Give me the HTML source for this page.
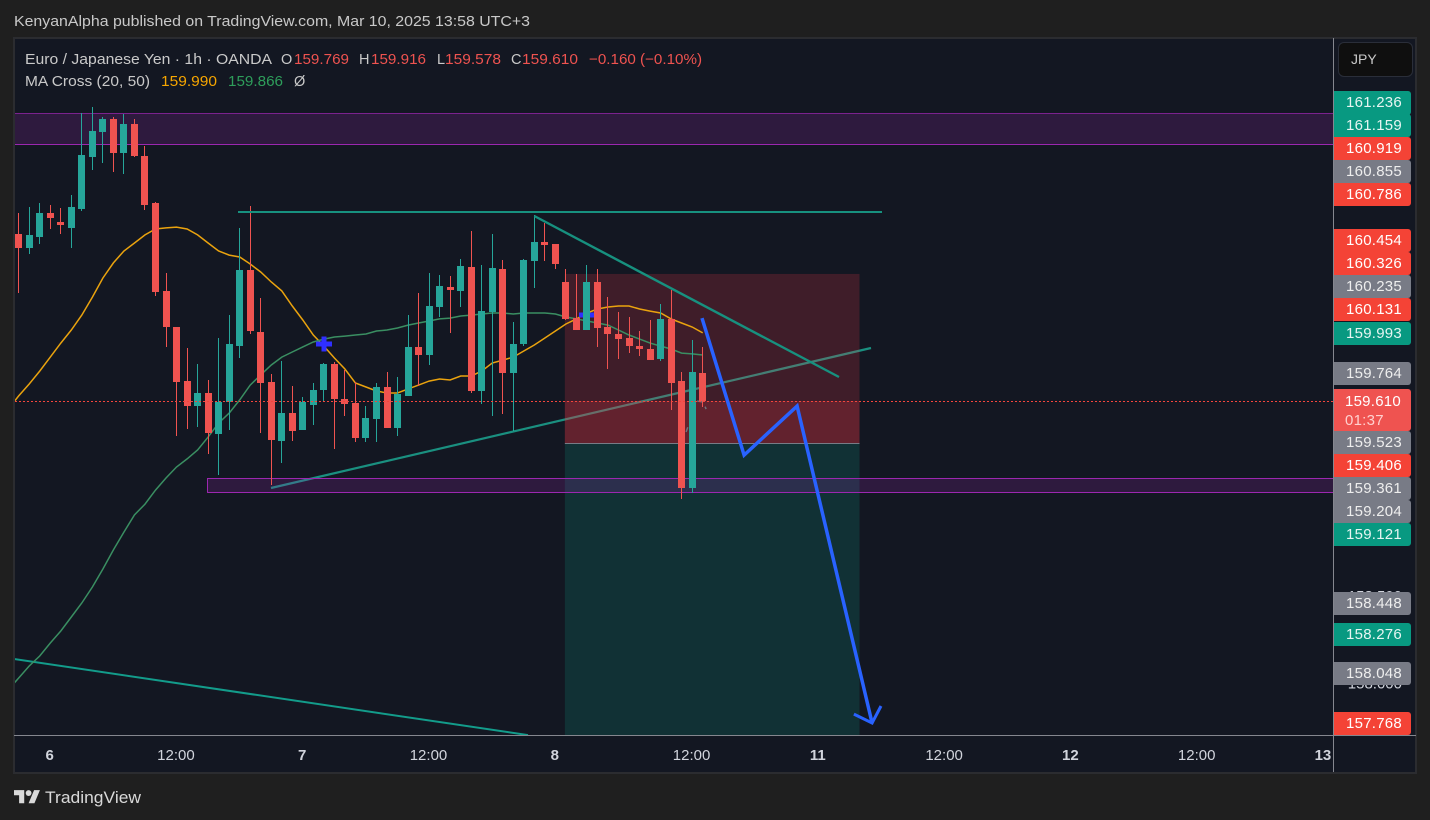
<!DOCTYPE html>
<html lang="en">
<head>
<meta charset="utf-8">
<title>EUR/JPY chart</title>
<style>
  html, body { margin: 0; padding: 0; background: #1f1f1f; }
  #stage { position: relative; width: 1430px; height: 820px; overflow: hidden; background: #1f1f1f; font-family: "Liberation Sans", sans-serif; }
  svg { position: absolute; left: 0; top: 0; }
  .tag { position: absolute; left: 1334px; width: 77px; height: 23px; line-height: 24px; box-sizing: border-box; padding-right: 9px; text-align: right; font-size: 15px; letter-spacing: 0.25px; border-radius: 0 3px 3px 0; color: #f4f4f4; }
  .teal { background: #089981; color: #e6f5f2; }
  .red { background: #f44336; color: #fff; }
  .gray { background: #787b86; color: #eeeeee; }
  #last-price-tag { height: 42px; top: 389px; background: #ef5350; color: #fff; z-index: 2; }
  #last-price-tag div { position: absolute; left: 11px; line-height: 20px; }
  #jpy-button { position: absolute; left: 1338px; top: 42px; width: 75px; height: 35px; box-sizing: border-box; background: #0f0f0f; border: 1px solid #2a2e39; border-radius: 6px; color: #c8c8c8; font-size: 14px; line-height: 33px; padding-left: 12px; }
</style>
</head>
<body>
<div id="stage">
  <svg id="chart" width="1430" height="820" viewBox="0 0 1430 820" xmlns="http://www.w3.org/2000/svg">
    <defs><clipPath id="pane-clip"><rect x="15" y="38" width="1318" height="697"></rect></clipPath></defs>
    <text x="14" y="26" font-size="14.5" fill="#c9c9c9" textLength="516" lengthAdjust="spacingAndGlyphs">KenyanAlpha published on TradingView.com, Mar 10, 2025 13:58 UTC+3</text>
    <rect x="14" y="38" width="1402" height="735" fill="#131722" stroke="#2b2c30" stroke-width="2"></rect>
    <g id="pane" clip-path="url(#pane-clip)"></g>
    <g id="axes"></g>
    <g font-size="14.5">
      <text x="25" y="64" fill="#c9c9c9" textLength="247" lengthAdjust="spacingAndGlyphs">Euro / Japanese Yen · 1h · OANDA</text>
      <text x="281" y="64" fill="#c9c9c9">O</text>
      <text x="294" y="64" fill="#ef5350" textLength="55" lengthAdjust="spacingAndGlyphs">159.769</text>
      <text x="359" y="64" fill="#c9c9c9">H</text>
      <text x="371" y="64" fill="#ef5350" textLength="55" lengthAdjust="spacingAndGlyphs">159.916</text>
      <text x="437" y="64" fill="#c9c9c9">L</text>
      <text x="445" y="64" fill="#ef5350" textLength="56" lengthAdjust="spacingAndGlyphs">159.578</text>
      <text x="511" y="64" fill="#c9c9c9">C</text>
      <text x="522" y="64" fill="#ef5350" textLength="56" lengthAdjust="spacingAndGlyphs">159.610</text>
      <text x="589" y="64" fill="#ef5350" textLength="113" lengthAdjust="spacingAndGlyphs">−0.160 (−0.10%)</text>
      <text x="25" y="86" fill="#c9c9c9" textLength="125" lengthAdjust="spacingAndGlyphs">MA Cross (20, 50)</text>
      <text x="161" y="86" fill="#f7a600" textLength="56" lengthAdjust="spacingAndGlyphs">159.990</text>
      <text x="228" y="86" fill="#2e9e5b" textLength="55" lengthAdjust="spacingAndGlyphs">159.866</text>
      <text x="294" y="86" fill="#c9c9c9">Ø</text>
    </g>
    <g>
      <g transform="translate(14 787.2) scale(0.73)" fill="#d9d9d9">
        <path d="M14 22H7V11H0V4h14v18zM28 22h-8l7.5-18h8L28 22z"></path>
        <circle cx="20" cy="8" r="4"></circle>
      </g>
      <text x="45" y="803" font-size="16.5" fill="#d9d9d9" textLength="96" lengthAdjust="spacingAndGlyphs">TradingView</text>
    </g>
  </svg>

  <div id="jpy-button">JPY</div>

  <div class="tag teal" style="top:91px;height:24px">161.236</div>
  <div class="tag teal" style="top:114px">161.159</div>
  <div class="tag red" style="top:137px">160.919</div>
  <div class="tag gray" style="top:160px">160.855</div>
  <div class="tag red" style="top:183px">160.786</div>
  <div class="tag red" style="top:229px">160.454</div>
  <div class="tag red" style="top:252px">160.326</div>
  <div class="tag gray" style="top:275px">160.235</div>
  <div class="tag red" style="top:298px">160.131</div>
  <div class="tag teal" style="top:322px">159.993</div>
  <div class="tag gray" style="top:362px">159.764</div>
  <div class="tag" id="last-price-tag">
    <div style="top:3px">159.610</div>
    <div style="top:22px;color:#ffd0ce">01:37</div>
  </div>
  <div class="tag gray" style="top:431px">159.523</div>
  <div class="tag red" style="top:454px">159.406</div>
  <div class="tag gray" style="top:477px">159.361</div>
  <div class="tag gray" style="top:500px">159.204</div>
  <div class="tag teal" style="top:523px">159.121</div>
  <div class="tag gray" style="top:592px">158.448</div>
  <div class="tag teal" style="top:623px">158.276</div>
  <div class="tag gray" style="top:662px">158.048</div>
  <div class="tag red" style="top:712px">157.768</div>
</div>

<script>
const opens = [160.564,160.484,160.547,160.684,160.633,160.599,160.707,161.004,161.147,161.221,161.027,161.193,161.010,160.741,160.239,160.033,159.724,159.581,159.656,159.421,159.604,159.924,160.359,160.004,159.719,159.381,159.541,159.444,159.587,159.673,159.821,159.621,159.599,159.399,159.507,159.690,159.456,159.639,159.919,159.873,160.147,160.261,160.239,160.376,159.667,160.119,160.364,159.770,159.936,160.410,160.519,160.507,160.290,160.084,160.016,160.290,160.033,159.993,159.970,159.924,159.907,159.850,160.079,159.724,159.113,159.769];
const highs = [160.684,160.719,160.741,160.730,160.713,160.787,161.256,161.290,161.233,161.233,161.250,161.221,161.067,160.747,160.341,160.033,159.913,159.821,159.730,159.970,160.101,160.599,160.724,160.199,159.764,159.839,159.696,159.633,159.713,159.827,159.833,159.787,159.719,159.581,159.713,159.776,159.747,160.101,160.227,160.341,160.330,160.324,160.421,160.581,160.387,160.564,160.416,160.061,160.421,160.673,160.627,160.507,160.364,160.336,160.387,160.364,160.204,160.119,160.090,160.010,160.073,160.164,160.244,159.776,159.959,159.916];
const lows = [160.227,160.450,160.507,160.593,160.564,160.484,160.696,160.930,160.970,160.919,160.907,161.004,160.701,160.210,159.919,159.410,159.450,159.461,159.307,159.187,159.444,159.856,159.993,159.427,159.130,159.256,159.381,159.444,159.473,159.610,159.336,159.524,159.376,159.376,159.376,159.456,159.410,159.639,159.696,159.816,160.090,159.999,160.147,159.656,159.593,159.524,159.536,159.439,159.924,160.256,160.410,160.364,160.073,160.016,160.016,159.919,159.793,159.850,159.884,159.867,159.844,159.839,159.559,159.050,159.084,159.578];
const closes = [160.484,160.559,160.684,160.656,160.616,160.719,161.016,161.153,161.221,161.027,161.193,161.010,160.730,160.233,160.033,159.719,159.581,159.656,159.427,159.604,159.936,160.359,160.010,159.713,159.387,159.541,159.439,159.604,159.673,159.821,159.621,159.593,159.399,159.513,159.690,159.456,159.650,159.919,159.873,160.153,160.267,160.244,160.381,159.667,160.124,160.370,159.770,159.936,160.416,160.519,160.501,160.393,160.079,160.016,160.290,160.027,159.993,159.964,159.924,159.907,159.844,160.079,159.713,159.113,159.776,159.610];
// moving averages start one bar before the first visible candle (bar -1)
const ma20 = [159.564,159.639,159.707,159.781,159.861,159.941,160.016,160.101,160.204,160.313,160.399,160.467,160.513,160.559,160.593,160.599,160.604,160.593,160.559,160.513,160.467,160.444,160.433,160.393,160.347,160.290,160.239,160.153,160.073,159.987,159.924,159.856,159.793,159.713,159.690,159.667,159.656,159.656,159.679,159.701,159.724,159.736,159.730,159.753,159.753,159.781,159.827,159.844,159.861,159.896,159.930,159.970,160.010,160.050,160.079,160.113,160.136,160.147,160.153,160.153,160.136,160.124,160.113,160.079,160.056,160.033,159.999];
const ma50 = [157.959,158.027,158.096,158.153,158.227,158.296,158.376,158.456,158.547,158.650,158.759,158.861,158.959,159.021,159.101,159.170,159.233,159.279,159.330,159.404,159.484,159.541,159.616,159.701,159.759,159.816,159.861,159.890,159.919,159.947,159.964,159.976,159.981,159.987,159.993,160.010,160.016,160.027,160.044,160.056,160.067,160.079,160.084,160.096,160.101,160.107,160.113,160.113,160.107,160.113,160.113,160.113,160.107,160.090,160.079,160.067,160.056,160.044,160.016,159.987,159.964,159.941,159.924,159.907,159.884,159.879,159.873];
const crossBars = [29, 54];
const crossPrices = [159.933, 160.099];
const priceTicks = [158.5, 158.0];
const timeTickBars = [3, 15, 27, 39, 51, 64, 76, 88, 100, 112, 124];
const timeTickLabels = ['6', '12:00', '7', '12:00', '8', '12:00', '11', '12:00', '12', '12:00', '13'];
const lastPrice = 159.610;
const upperZonePrices = [161.256, 161.079];
const upperZoneBars = [-1, 130];
const lowerZonePrices = [159.170, 159.090];
const lowerZoneBars = [17.9, 130];
const positionBars = [51.9, 79.9];
const positionStop = 160.336;
const positionEntry = 159.370;
const positionTarget = 157.701;
const resistanceBars = [20.84, 82.04];
const resistancePrice = 160.690;
const fallingBars = [49, 77.95];
const fallingPrices = [160.667, 159.747];
const risingBars = [23.98, 80.99];
const risingPrices = [159.113, 159.913];
const channelBars = [-0.45, 48.4];
const channelPrices = [158.136, 157.701];
const forecastBars = [64.93, 68.93, 73.97, 81.1];
const forecastPrices = [160.084, 159.301, 159.581, 157.770];
const arrowBars = [79.37, 81.1, 81.94];
const arrowPrices = [157.821, 157.770, 157.867];
const scribbleBars = [63.42, 64.47, 65.04, 65.32];
const scribblePrices = [159.433, 159.610, 159.604, 159.564];

const NS = 'http://www.w3.org/2000/svg';
const xOf = function (bar) { return 18.7 + bar * 10.523; };
const yOf = function (price) { return 401 - (price - 159.61) * 175; };
const pane = document.getElementById('pane');
const axes = document.getElementById('axes');

function make(tag, attrs, parent) {
  const node = document.createElementNS(NS, tag);
  Object.keys(attrs).forEach(function (k) { node.setAttribute(k, attrs[k]); });
  parent.appendChild(node);
  return node;
}
function pointList(bars, prices) {
  return bars.map(function (b, i) { return xOf(b).toFixed(1) + ',' + yOf(prices[i]).toFixed(1); }).join(' ');
}
function zoneRect(bars, prices, fill, parent) {
  return make('rect', {
    x: xOf(bars[0]), y: yOf(prices[0]),
    width: xOf(bars[1]) - xOf(bars[0]),
    height: yOf(prices[1]) - yOf(prices[0]),
    fill: fill
  }, parent);
}
function zoneBorder(bars, price, stroke, opacity, parent) {
  const y = Math.round(yOf(price)) + 0.5;
  return make('line', { x1: xOf(bars[0]), x2: xOf(bars[1]), y1: y, y2: y, stroke: stroke, 'stroke-opacity': opacity }, parent);
}

/* rising trend line sits under the position tool */
const risingLine = make('polyline', { points: pointList(risingBars, risingPrices), fill: 'none', stroke: '#1a9080', 'stroke-width': 2.2 }, pane);



const channelLine = make('polyline', { points: pointList(channelBars, channelPrices), fill: 'none', stroke: '#139c8b', 'stroke-width': 2 }, pane);



/* short position tool */
const stopZone = zoneRect(positionBars, [positionStop, positionEntry], 'rgba(242,54,69,0.2)', pane);



const openZone = zoneRect(positionBars, [lastPrice, positionEntry], 'rgba(242,54,69,0.2)', pane);



const targetZone = zoneRect(positionBars, [positionEntry, positionTarget], 'rgba(8,153,129,0.2)', pane);



const entryLine = zoneBorder(positionBars, positionEntry, '#787b86', 1, pane);



/* purple supply and demand zones */
const upperZone = zoneRect(upperZoneBars, upperZonePrices, 'rgba(156,39,176,0.2)', pane);



const upperZoneTop = zoneBorder(upperZoneBars, upperZonePrices[0], '#9c27b0', 0.7, pane);



const upperZoneBottom = zoneBorder(upperZoneBars, upperZonePrices[1], '#9c27b0', 1, pane);



const lowerZone = zoneRect(lowerZoneBars, lowerZonePrices, 'rgba(156,39,176,0.2)', pane);



const lowerZoneTop = zoneBorder(lowerZoneBars, lowerZonePrices[0], '#9c27b0', 1, pane);



const lowerZoneBottom = zoneBorder(lowerZoneBars, lowerZonePrices[1], '#9c27b0', 1, pane);



const lowerZoneLeft = make('line', {
  x1: Math.round(xOf(lowerZoneBars[0])) + 0.5, x2: Math.round(xOf(lowerZoneBars[0])) + 0.5,
  y1: yOf(lowerZonePrices[0]), y2: yOf(lowerZonePrices[1]),
  stroke: '#9c27b0'
}, pane);



/* moving averages */
const maBars = ma20.map(function (v, i) { return i - 1; });
const ma20Line = make('polyline', { points: pointList(maBars, ma20), fill: 'none', stroke: '#eaa30e', 'stroke-width': 1.5 }, pane);



const ma50Line = make('polyline', { points: pointList(maBars, ma50), fill: 'none', stroke: '#3a8f62', 'stroke-width': 1.5 }, pane);



/* cross markers */
crossBars.forEach(function (bar, i) {
  const cx = Math.round(xOf(bar));
  const cy = Math.round(yOf(crossPrices[i]));
  const marker = make('path', {
    d: 'M' + (cx - 8) + ' ' + (cy - 2.5) + 'h5.5v-5h5v5h5.5v5h-5.5v5h-5v-5h-5.5z',
    fill: '#2f2fff'
  }, pane);
  
  
});

/* faint scribble near the latest candles */
const scribble = make('polyline', { points: pointList(scribbleBars, scribblePrices), fill: 'none', stroke: '#6f737c', 'stroke-width': 1.5, 'stroke-dasharray': '5 6' }, pane);



/* candles */
opens.forEach(function (open, i) {
  const close = closes[i];
  const up = close >= open;
  const color = up ? '#26a69a' : '#ef5350';
  const left = Math.round(xOf(i) - 3.5);
  const bodyTop = Math.round(yOf(Math.max(open, close)));
  const bodyBottom = Math.round(yOf(Math.min(open, close)));
  const wick = make('rect', {
    x: left + 3, y: Math.round(yOf(highs[i])),
    width: 1, height: Math.max(1, Math.round(yOf(lows[i])) - Math.round(yOf(highs[i]))),
    fill: color
  }, pane);
  
  
  const body = make('rect', {
    x: left, y: bodyTop, width: 7, height: Math.max(1, bodyBottom - bodyTop), fill: color
  }, pane);
  
  
});

/* overlaid trend drawings */
const resistanceLine = make('line', {
  x1: xOf(resistanceBars[0]), x2: xOf(resistanceBars[1]),
  y1: Math.round(yOf(resistancePrice)), y2: Math.round(yOf(resistancePrice)),
  stroke: '#17917f', 'stroke-width': 2
}, pane);



const fallingLine = make('polyline', { points: pointList(fallingBars, fallingPrices), fill: 'none', stroke: '#17917f', 'stroke-width': 2.4 }, pane);



const lastPriceLine = make('line', {
  x1: 15, x2: 1333, y1: Math.round(yOf(lastPrice)) + 0.5, y2: Math.round(yOf(lastPrice)) + 0.5,
  stroke: '#f2453d', 'stroke-dasharray': '2 2'
}, pane);



const forecastPath = make('polyline', { points: pointList(forecastBars, forecastPrices), fill: 'none', stroke: '#2962ff', 'stroke-width': 3.5, 'stroke-linejoin': 'miter' }, pane);



const forecastArrow = make('polyline', { points: pointList(arrowBars, arrowPrices), fill: 'none', stroke: '#2962ff', 'stroke-width': 3 }, pane);



/* axes */
const timeAxisLine = make('line', { x1: 14, x2: 1416, y1: 735.5, y2: 735.5, stroke: '#85878f' }, axes);



const priceAxisLine = make('line', { x1: 1333.5, x2: 1333.5, y1: 38, y2: 772, stroke: '#85878f' }, axes);



priceTicks.forEach(function (tick) {
  const label = make('text', { x: 1402, y: yOf(tick) + 5.5, 'text-anchor': 'end', 'font-size': 15, fill: '#d1d4dc' }, axes);
  
  
  label.textContent = tick.toFixed(3);
});

timeTickBars.forEach(function (bar, i) {
  const text = timeTickLabels[i];
  const isDay = text.indexOf(':') < 0;
  const label = make('text', {
    x: xOf(bar) - 0.6, y: 760, 'text-anchor': 'middle', 'font-size': 15,
    'font-weight': isDay ? 'bold' : 'normal', fill: '#d1d4dc'
  }, axes);
  
  
  label.textContent = text;
});
</script>
</body>
</html>
